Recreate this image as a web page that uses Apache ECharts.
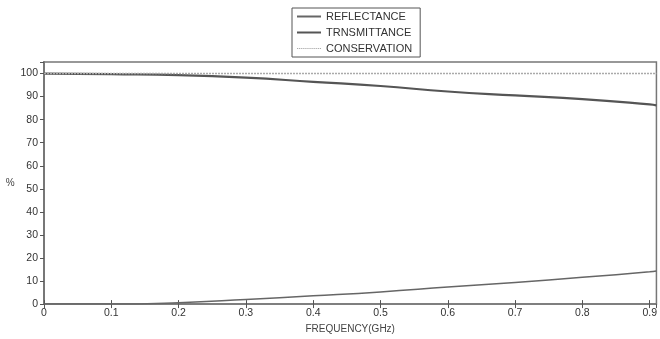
<!DOCTYPE html>
<html>
<head>
<meta charset="utf-8">
<script src="https://cdn.jsdelivr.net/npm/echarts@6/dist/echarts.min.js"></script>
<style>html,body{margin:0;padding:0;background:#fff;}#c{width:660px;height:339px;}</style>
</head>
<body>
<div id="c"></div>
<script>
var frequency = [0, 0.1, 0.2, 0.3, 0.4, 0.5, 0.6, 0.7, 0.8, 0.9, 0.91];
var reflectance = [0, 0, 0.6, 2.0, 3.6, 5.3, 7.4, 9.4, 11.6, 14.0, 14.4];
var transmittance = [100, 99.7, 99.3, 98.2, 96.4, 94.6, 92.2, 90.5, 88.9, 86.6, 86.2];
var conservation = [100, 100, 100, 100, 100, 100, 100, 100, 100, 100, 100];
var xTicks = [0, 0.1, 0.2, 0.3, 0.4, 0.5, 0.6, 0.7, 0.8, 0.9];
var yTicks = [0, 10, 20, 30, 40, 50, 60, 70, 80, 90, 100];

function pairs(ys) { return frequency.map(function (f, i) { return [f, ys[i]]; }); }

var dashPath = 'path://';
for (var k = 0; k < 12; k++) { dashPath += 'M' + (k * 2) + ',0h1.2v1h-1.2z'; }

var chart = echarts.init(document.getElementById('c'), null, { renderer: 'canvas' });
var font = 'Arial, "Liberation Sans", sans-serif';
var axisCol = '#777';
chart.setOption({
  animation: false,
  backgroundColor: '#fff',
  textStyle: { fontFamily: font },
  legend: {
    top: 8, left: 292,
    orient: 'vertical',
    itemWidth: 24, itemHeight: 2, itemGap: 5,
    padding: [3, 8, 3, 5],
    borderColor: '#555', borderWidth: 1,
    textStyle: { fontSize: 11, color: '#333', fontFamily: font },
    data: [
      { name: 'REFLECTANCE', icon: 'rect' },
      { name: 'TRNSMITTANCE', icon: 'rect' },
      { name: 'CONSERVATION', icon: dashPath }
    ]
  },
  grid: { left: 44, right: 0, top: 62, bottom: 31, containLabel: false,
    show: true, borderColor: axisCol, borderWidth: 1.5, backgroundColor: 'transparent' },
  xAxis: [{
    type: 'value', min: 0, max: 0.91, interval: 0.1,
    name: 'FREQUENCY(GHz)', nameLocation: 'middle', nameGap: 15,
    nameTextStyle: { fontSize: 10, color: '#444', fontFamily: font },
    axisLine: { show: true, lineStyle: { color: axisCol, width: 1.5 } },
    axisTick: { show: true, inside: true, length: 4, lineStyle: { color: '#555' } },
    axisLabel: { fontSize: 10.5, color: '#333', margin: 4, showMaxLabel: false,
      formatter: function (v) { return xTicks.indexOf(Math.round(v * 10) / 10) >= 0 ? String(Math.round(v * 10) / 10) : ''; } },
    splitLine: { show: false }
  }, {
    type: 'value', min: 0, max: 0.91, interval: 0.1, position: 'top',
    axisLine: { show: false },
    axisTick: { show: true, inside: true, length: 4, lineStyle: { color: '#555' } },
    axisLabel: { show: false }, splitLine: { show: false }
  }],
  yAxis: [{
    type: 'value', min: 0, max: 105, interval: 10,
    name: '%', nameLocation: 'middle', nameGap: 28, nameRotate: 0,
    nameTextStyle: { fontSize: 10, color: '#444', fontFamily: font },
    axisLine: { show: true, lineStyle: { color: axisCol, width: 2 } },
    axisTick: { show: true, inside: false, length: 4, lineStyle: { color: '#555' } },
    axisLabel: { fontSize: 10.5, color: '#333', margin: 6, showMaxLabel: false,
      formatter: function (v) { return yTicks.indexOf(v) >= 0 ? String(v) : ''; } },
    splitLine: { show: false }
  }, {
    type: 'value', min: 0, max: 105, interval: 10, position: 'right',
    axisLine: { show: false },
    axisTick: { show: true, inside: true, length: 4, lineStyle: { color: '#555' } },
    axisLabel: { show: false }, splitLine: { show: false }
  }],
  series: [{
    name: 'REFLECTANCE', type: 'line', symbol: 'none', smooth: true,
    data: pairs(reflectance),
    lineStyle: { color: '#666', width: 1.5 }, itemStyle: { color: '#666' }
  }, {
    name: 'TRNSMITTANCE', type: 'line', symbol: 'none', smooth: true,
    data: pairs(transmittance),
    lineStyle: { color: '#555', width: 2.2 }, itemStyle: { color: '#555' }
  }, {
    name: 'CONSERVATION', type: 'line', symbol: 'none',
    data: pairs(conservation),
    lineStyle: { color: '#aaa', width: 1.5, type: [2, 1] }, itemStyle: { color: '#aaa' }
  }]
});
</script>
</body>
</html>
